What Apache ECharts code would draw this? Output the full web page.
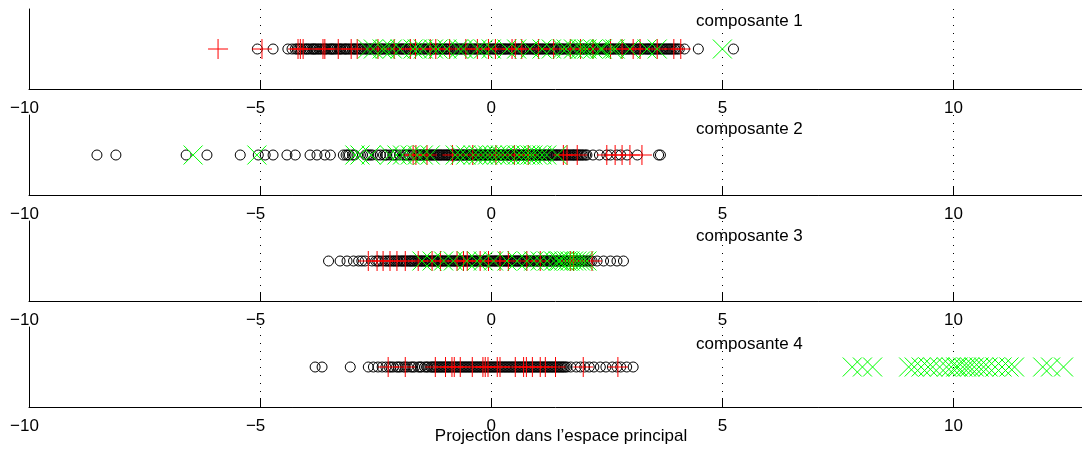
<!DOCTYPE html>
<html><head><meta charset="utf-8">
<script src="https://cdn.jsdelivr.net/npm/echarts@6/dist/echarts.min.js"></script>
<style>html,body{margin:0;padding:0;background:#fff}#c{width:1082px;height:454px}</style>
</head><body><div id="c"></div>
<script>
const xTicks = [-10, -5, 0, 5, 10];
const panelNames = ['composante 1', 'composante 2', 'composante 3', 'composante 4'];
const xLabel = 'Projection dans l\u2019espace principal';

const circles1 = [-5.06, -4.72, -4.40, -4.31, -4.24, -4.17, -4.11, -4.02, -3.96, -3.88, -3.83, -3.77, -3.70, -3.62, -3.57, -3.49, -3.44, -3.38, -3.30, -3.25, -3.17, -3.12, -3.05, -2.98, -2.93, -2.85, -2.80, -2.72, -2.66, -2.61, -2.53, -2.47, -2.40, -2.35, -2.27, -2.21, -2.15, -2.08, -2.02, -1.95, -1.90, -1.82, -1.77, -1.69, -1.64, -1.57, -1.50, -1.45, -1.38, -1.31, -1.26, -1.18, -1.13, -1.06, -0.99, -0.94, -0.86, -0.81, -0.74, -0.68, -0.62, -0.55, -0.49, -0.43, -0.36, -0.30, -0.24, -0.17, -0.12, -0.05, 0.02, 0.07, 0.14, 0.20, 0.27, 0.32, 0.39, 0.45, 0.51, 0.58, 0.63, 0.70, 0.76, 0.82, 0.89, 0.94, 1.01, 1.07, 1.13, 1.20, 1.25, 1.32, 1.38, 1.44, 1.51, 1.56, 1.63, 1.69, 1.75, 1.82, 1.87, 1.94, 2.00, 2.06, 2.13, 2.18, 2.25, 2.31, 2.37, 2.44, 2.49, 2.56, 2.62, 2.68, 2.75, 2.80, 2.87, 2.93, 2.99, 3.06, 3.11, 3.18, 3.24, 3.30, 3.37, 3.42, 3.49, 3.55, 3.61, 3.68, 3.73, 3.80, 3.86, 3.92, 3.99, 4.07, 4.18, 4.48, 5.24];
const circles1b = [-4.20, -4.14, -4.06, -3.99, -3.92, -3.85, -3.80, -3.73, -3.66, -3.60, -3.53, -3.46, -3.41, -3.34, -3.27, -3.21, -3.15, -3.08, -3.01, -2.95, -2.89, -2.82, -2.76, -2.69, -2.63, -2.57, -2.50, -2.44, -2.37, -2.31, -2.24, -2.18, -2.11, -2.05, -1.98, -1.92, -1.86, -1.79, -1.73, -1.66, -1.60, -1.54, -1.47, -1.41, -1.35, -1.28, -1.22, -1.16, -1.09, -1.03, -0.97, -0.90, -0.84, -0.77, -0.71, -0.65, -0.58, -0.52, -0.46, -0.39, -0.33, -0.27, -0.20, -0.14, -0.08, -0.02, 0.05, 0.11, 0.17, 0.24, 0.30, 0.36, 0.42, 0.48, 0.55, 0.61, 0.67, 0.73, 0.79, 0.86, 0.92, 0.98, 1.04, 1.10, 1.17, 1.23, 1.29, 1.35, 1.41, 1.48, 1.54, 1.60, 1.66, 1.72, 1.79, 1.85, 1.91, 1.97, 2.03, 2.10, 2.16, 2.22, 2.28, 2.34, 2.41, 2.47, 2.53, 2.59, 2.65, 2.72, 2.78, 2.84, 2.90, 2.96, 3.03, 3.09, 3.15, 3.21, 3.27, 3.34, 3.40, 3.46, 3.52, 3.58, 3.65, 3.71, 3.77, 3.83, 3.89, 3.96, 4.03];
const plus1 = [-5.91, -4.96, -4.18, -4.13, -4.07, -3.64, -3.60, -3.31, -3.03, -2.90, -2.45, -2.10, -1.75, -1.64, -1.32, -1.20, -0.90, -0.55, -0.30, -0.06, 0.09, 0.45, 0.52, 0.66, 1.02, 1.35, 1.71, 1.93, 2.20, 2.58, 2.83, 3.07, 3.22, 3.59, 3.95, 4.10];
const cross1 = [-2.68, -2.55, -2.36, -2.29, -2.14, -1.97, -1.69, -1.60, -1.47, -1.25, -1.15, -0.96, -0.71, -0.60, -0.30, -0.17, 0.00, 0.34, 0.55, 0.84, 1.10, 1.30, 1.54, 1.62, 1.78, 1.93, 2.00, 2.07, 2.20, 2.36, 2.40, 2.62, 2.68, 3.00, 3.37, 3.59, 5.00];

const circles2 = [-8.53, -8.12, -6.60, -6.15, -5.43, -5.04, -4.89, -4.72, -4.42, -4.24, -3.92, -3.77, -3.60, -3.48, -3.20, -3.14, -3.07, -3.00, -2.72, -2.65, -2.57, -2.40, -2.33, -2.26, -2.13, -2.05, -1.86, -1.79, -1.72, -1.62, -1.56, -1.50, -1.44, -1.38, -1.33, -1.27, -1.21, -1.15, -1.10, -1.04, -0.98, -0.93, -0.87, -0.81, -0.76, -0.70, -0.64, -0.59, -0.53, -0.47, -0.42, -0.36, -0.30, -0.25, -0.19, -0.13, -0.08, -0.02, 0.04, 0.09, 0.15, 0.21, 0.26, 0.32, 0.38, 0.43, 0.49, 0.55, 0.60, 0.66, 0.72, 0.77, 0.83, 0.89, 0.94, 1.00, 1.06, 1.11, 1.17, 1.23, 1.28, 1.34, 1.40, 1.45, 1.51, 1.57, 1.62, 1.68, 1.74, 1.79, 1.85, 1.91, 1.97, 2.04, 2.20, 2.34, 2.50, 2.58, 2.72, 2.80, 2.94, 3.16, 3.62, 3.66];
const circles2b = [-3.10, -2.96, -2.68, -2.61, -2.47, -2.29, -2.19, -2.09, -1.98, -1.90, -1.83, -1.76, -1.68, -1.59, -1.53, -1.47, -1.41, -1.36, -1.30, -1.24, -1.18, -1.12, -1.07, -1.01, -0.95, -0.90, -0.84, -0.78, -0.73, -0.67, -0.61, -0.56, -0.50, -0.45, -0.39, -0.33, -0.28, -0.22, -0.16, -0.11, -0.05, 0.01, 0.06, 0.12, 0.18, 0.23, 0.29, 0.35, 0.40, 0.46, 0.52, 0.57, 0.63, 0.69, 0.74, 0.80, 0.86, 0.91, 0.97, 1.03, 1.08, 1.14, 1.20, 1.25, 1.31, 1.37, 1.42, 1.48, 1.54, 1.60, 1.65, 1.71, 1.77, 1.82, 1.88, 1.94, 2.00, 2.07];
const plus2 = [-1.69, -1.63, -1.39, -0.84, -0.40, 0.10, 0.50, 0.80, 1.56, 1.64, 1.86, 2.50, 2.68, 2.83, 3.00, 3.26];
const cross2 = [-6.45, -5.07, -2.95, -2.84, -2.60, -2.20, -2.04, -1.92, -1.75, -1.60, -1.47, -1.32, -0.78, -0.67, -0.55, -0.39, -0.28, -0.17, -0.08, 0.02, 0.12, 0.20, 0.30, 0.41, 0.56, 0.65, 0.75, 0.84, 0.90, 1.00, 1.10, 1.20, 1.43];

const circles3 = [-3.52, -3.27, -3.12, -2.98, -2.87, -2.80, -2.73, -2.58, -2.50, -2.43, -2.30, -2.22, -2.15, -2.08, -2.01, -1.94, -1.88, -1.82, -1.75, -1.70, -1.64, -1.58, -1.52, -1.47, -1.41, -1.35, -1.29, -1.24, -1.18, -1.12, -1.06, -1.01, -0.95, -0.89, -0.83, -0.78, -0.72, -0.66, -0.60, -0.55, -0.49, -0.43, -0.37, -0.32, -0.26, -0.20, -0.14, -0.09, -0.03, 0.03, 0.09, 0.14, 0.20, 0.26, 0.32, 0.37, 0.43, 0.49, 0.55, 0.60, 0.66, 0.72, 0.78, 0.83, 0.89, 0.95, 1.01, 1.06, 1.12, 1.18, 1.24, 1.29, 1.35, 1.41, 1.47, 1.52, 1.58, 1.64, 1.70, 1.75, 1.81, 1.87, 1.93, 1.99, 2.06, 2.14, 2.29, 2.43, 2.58, 2.72, 2.86];
const circles3b = [-2.46, -2.36, -2.26, -2.19, -2.11, -2.04, -1.97, -1.91, -1.85, -1.78, -1.73, -1.67, -1.61, -1.55, -1.50, -1.44, -1.38, -1.32, -1.26, -1.21, -1.15, -1.09, -1.04, -0.98, -0.92, -0.86, -0.80, -0.75, -0.69, -0.63, -0.57, -0.52, -0.46, -0.40, -0.34, -0.29, -0.23, -0.17, -0.11, -0.06, 0.00, 0.06, 0.11, 0.17, 0.23, 0.29, 0.34, 0.40, 0.46, 0.52, 0.57, 0.63, 0.69, 0.75, 0.80, 0.86, 0.92, 0.98, 1.03, 1.09, 1.15, 1.21, 1.26, 1.32, 1.38, 1.44, 1.49, 1.55, 1.61, 1.67, 1.72, 1.78, 1.84, 1.90, 1.96, 2.02, 2.10, 2.18];
const plus3 = [-2.66, -2.47, -2.34, -2.19, -2.04, -1.86, -1.58, -1.28, -1.10, -0.74, -0.60, -0.52, -0.24, -0.06, 0.19, 0.37, 0.77, 1.06, 1.71, 1.78, 2.18];
const cross3 = [-1.50, -1.28, -1.03, -0.82, -0.53, -0.31, -0.17, 0.05, 0.34, 0.56, 0.77, 0.92, 1.06, 1.21, 1.35, 1.45, 1.49, 1.57, 1.64, 1.70, 1.78, 1.85, 1.93, 2.00, 2.07];

const circles4 = [-3.81, -3.66, -3.05, -2.66, -2.55, -2.45, -2.36, -2.28, -2.21, -2.12, -2.05, -1.97, -1.90, -1.81, -1.74, -1.66, -1.58, -1.51, -1.44, -1.37, -1.31, -1.25, -1.19, -1.13, -1.07, -1.01, -0.95, -0.89, -0.83, -0.77, -0.71, -0.65, -0.59, -0.53, -0.47, -0.41, -0.35, -0.29, -0.23, -0.17, -0.11, -0.05, 0.01, 0.07, 0.13, 0.19, 0.25, 0.31, 0.37, 0.43, 0.49, 0.55, 0.61, 0.67, 0.73, 0.79, 0.85, 0.91, 0.97, 1.03, 1.09, 1.15, 1.21, 1.27, 1.33, 1.39, 1.45, 1.51, 1.57, 1.64, 1.72, 1.84, 1.93, 2.02, 2.12, 2.22, 2.36, 2.48, 2.62, 2.72, 2.80, 2.93, 3.07];
const circles4b = [-2.17, -2.01, -1.86, -1.70, -1.54, -1.40, -1.28, -1.22, -1.16, -1.10, -1.04, -0.98, -0.92, -0.86, -0.80, -0.74, -0.68, -0.62, -0.56, -0.50, -0.44, -0.38, -0.32, -0.26, -0.20, -0.14, -0.08, -0.02, 0.04, 0.10, 0.16, 0.22, 0.28, 0.34, 0.40, 0.46, 0.52, 0.58, 0.64, 0.70, 0.76, 0.82, 0.88, 0.94, 1.00, 1.06, 1.12, 1.18, 1.24, 1.30, 1.36, 1.42, 1.48, 1.54, 1.60];
const plus4 = [-2.23, -1.86, -1.21, -0.99, -0.85, -0.80, -0.67, -0.41, -0.18, -0.13, -0.07, 0.13, 0.19, 0.52, 0.70, 0.76, 0.89, 1.06, 1.17, 1.39, 1.99, 2.74];
const cross4 = [7.81, 8.03, 8.25, 9.03, 9.15, 9.30, 9.45, 9.55, 9.70, 9.85, 9.95, 10.05, 10.10, 10.20, 10.28, 10.35, 10.45, 10.55, 10.65, 10.75, 10.90, 11.05, 11.20, 11.32, 11.93, 12.10, 12.38];

const panels = [
  [circles1.concat(circles1b), plus1, cross1],
  [circles2.concat(circles2b), plus2, cross2],
  [circles3.concat(circles3b), plus3, cross3],
  [circles4.concat(circles4b), plus4, cross4]
];

const FONT = '"Liberation Sans", Arial, Helvetica, sans-serif';
const chart = echarts.init(document.getElementById('c'), null, {renderer: 'canvas'});
const grids = [], xAxes = [], yAxes = [], series = [], graphics = [];
const panelTop = 9, panelStep = 106, panelH = 80;
const labelY = [21, 129, 236, 344];

panels.forEach((p, i) => {
  grids.push({left: 29, width: 1053, top: panelTop + i * panelStep, height: panelH});
  xAxes.push({
    type: 'value', gridIndex: i, min: -10, max: 12.78, interval: 5,
    axisLine: {onZero: false, lineStyle: {color: '#000', width: 1}},
    axisTick: {inside: true, length: 9, lineStyle: {color: '#000'}},
    axisLabel: {
      margin: 11, showMaxLabel: false, color: '#000', fontSize: 17, fontFamily: FONT,
      formatter: v => (xTicks.indexOf(v) < 0 ? '' : (v < 0 ? '{n|\u2212' + Math.abs(v) + '}' : String(v))),
      rich: {n: {fontSize: 17, fontFamily: FONT, color: '#000', padding: [0, 9, 0, 0]}}
    },
    splitLine: {show: true, lineStyle: {color: '#000', width: 1, type: [1, 7]}}
  });
  yAxes.push({
    type: 'value', gridIndex: i, min: -1, max: 1,
    axisLine: {show: true, onZero: false, lineStyle: {color: '#000', width: 1}},
    axisTick: {show: false}, axisLabel: {show: false}, splitLine: {show: false}
  });
  series.push({
    type: 'scatter', xAxisIndex: i, yAxisIndex: i, silent: true,
    symbol: 'circle', symbolSize: 10,
    itemStyle: {color: 'rgba(0,0,0,0)', borderColor: '#000', borderWidth: 1, opacity: 1},
    data: p[0].map(v => [v, 0])
  });
  series.push({
    type: 'scatter', xAxisIndex: i, yAxisIndex: i, silent: true,
    symbol: 'path://M10,0L10,20M0,10L20,10', symbolSize: 20,
    itemStyle: {color: 'rgba(0,0,0,0)', borderColor: '#ff0000', borderWidth: 1, opacity: 1},
    data: p[1].map(v => [v, 0])
  });
  series.push({
    type: 'scatter', xAxisIndex: i, yAxisIndex: i, silent: true,
    symbol: 'path://M0,0L20,20M20,0L0,20', symbolSize: 19,
    itemStyle: {color: 'rgba(0,0,0,0)', borderColor: '#00ff00', borderWidth: 1, opacity: 1},
    data: p[2].map(v => [v, 0])
  });
  graphics.push({
    type: 'text', x: 696, y: labelY[i],
    style: {text: panelNames[i], font: '17px ' + FONT, fill: '#000', verticalAlign: 'middle', align: 'left'}
  });
});
graphics.push({
  type: 'text', x: 561, y: 436,
  style: {text: xLabel, font: '17px ' + FONT, fill: '#000', verticalAlign: 'middle', align: 'center'}
});

chart.setOption({
  animation: false,
  backgroundColor: '#fff',
  grid: grids, xAxis: xAxes, yAxis: yAxes, series: series, graphic: graphics
});
</script></body></html>
